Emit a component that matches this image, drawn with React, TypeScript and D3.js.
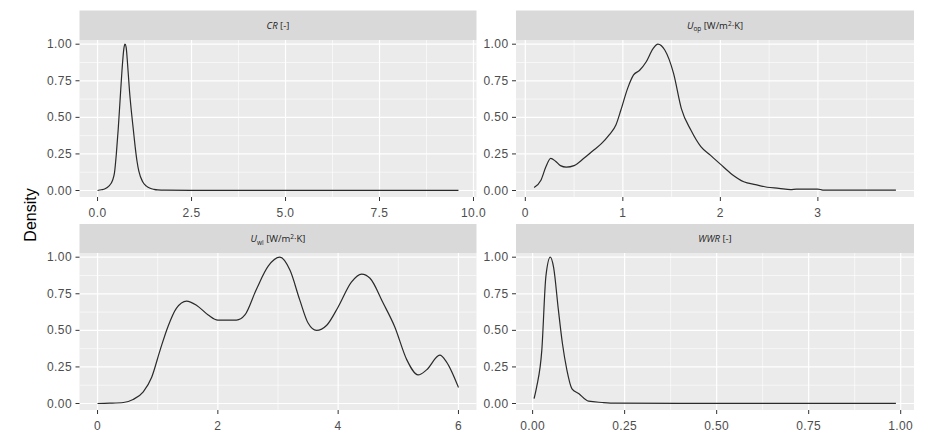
import * as d3 from "d3";
import React from "react";

// density curves (scaled so that max = 1)
const crX = [0, 0.1, 0.2, 0.3, 0.4, 0.45, 0.5, 0.55, 0.6, 0.65, 0.7, 0.73, 0.76, 0.8, 0.85, 0.9, 0.95, 1.0, 1.05, 1.1, 1.2, 1.3, 1.4, 1.5, 1.6, 1.8, 2.5, 5, 7.5, 9.6];
const crY = [0, 0.005, 0.012, 0.03, 0.07, 0.12, 0.25, 0.42, 0.62, 0.82, 0.97, 1.0, 0.98, 0.86, 0.68, 0.54, 0.42, 0.3, 0.2, 0.13, 0.06, 0.03, 0.015, 0.008, 0.004, 0.002, 0.001, 0.001, 0.001, 0.001];

const uopX = [0.09, 0.16, 0.21, 0.26, 0.31, 0.36, 0.42, 0.5, 0.6, 0.69, 0.78, 0.86, 0.93, 0.98, 1.05, 1.11, 1.17, 1.24, 1.31, 1.36, 1.43, 1.52, 1.6, 1.7, 1.8, 1.9, 2.0, 2.12, 2.24, 2.36, 2.48, 2.6, 2.72, 2.78, 2.9, 3.0, 3.05, 3.3, 3.55, 3.8];
const uopY = [0.02, 0.07, 0.16, 0.22, 0.2, 0.17, 0.16, 0.17, 0.22, 0.27, 0.32, 0.38, 0.45, 0.55, 0.7, 0.79, 0.82, 0.88, 0.97, 1.0, 0.96, 0.8, 0.56, 0.41, 0.3, 0.24, 0.18, 0.11, 0.06, 0.04, 0.022, 0.015, 0.006, 0.01, 0.01, 0.01, 0.003, 0.002, 0.002, 0.002];

const uwlX = [0, 0.2, 0.43, 0.59, 0.76, 0.9, 1.04, 1.17, 1.31, 1.48, 1.65, 1.84, 2.0, 2.31, 2.45, 2.64, 2.84, 3.03, 3.2, 3.36, 3.5, 3.64, 3.81, 4.0, 4.22, 4.39, 4.53, 4.75, 4.94, 5.14, 5.33, 5.47, 5.69, 5.8, 6.0];
const uwlY = [0, 0.002, 0.007, 0.027, 0.08, 0.18, 0.365, 0.525, 0.65, 0.7, 0.67, 0.605, 0.57, 0.57, 0.605, 0.78, 0.94, 1.0, 0.91, 0.71, 0.55, 0.5, 0.535, 0.66, 0.83, 0.885, 0.856, 0.685, 0.525, 0.3, 0.195, 0.23, 0.33, 0.285, 0.11];

const wwrX = [0.004, 0.011, 0.025, 0.036, 0.048, 0.057, 0.07, 0.081, 0.093, 0.107, 0.125, 0.152, 0.189, 0.225, 0.4, 0.6, 0.8, 0.987];
const wwrY = [0.034, 0.114, 0.365, 0.867, 1.0, 0.93, 0.64, 0.41, 0.23, 0.1, 0.068, 0.016, 0.007, 0.002, 0.001, 0.001, 0.001, 0.001];

const yTicks = [0, 0.25, 0.5, 0.75, 1];
const crTicks = [0, 2.5, 5, 7.5, 10];
const uopTicks = [0, 1, 2, 3];
const uwlTicks = [0, 2, 4, 6];
const wwrTicks = [0, 0.25, 0.5, 0.75, 1];

const cols = [
  { x0: 79.5, x1: 476.5 },
  { x0: 516, x1: 914 },
];
const rows = [
  { stripTop: 10.5, top: 40, bottom: 197 },
  { stripTop: 224, top: 253, bottom: 410 },
];

const tickFont = "'Liberation Sans', Arial, sans-serif";
const stripFont = "'Open Sans', 'DejaVu Sans', sans-serif";

function minorOf(ticks, lo, hi) {
  const step = ticks[1] - ticks[0];
  const out = [ticks[0] - step / 2, ...ticks.map((t) => t + step / 2)];
  return out.filter((v) => v > lo && v < hi);
}

function StripLabel({ name }) {
  if (name === "CR") {
    return (
      <>
        <tspan fontStyle="italic">CR</tspan>
        <tspan> [-]</tspan>
      </>
    );
  }
  if (name === "WWR") {
    return (
      <>
        <tspan fontStyle="italic">WWR</tspan>
        <tspan> [-]</tspan>
      </>
    );
  }
  const sub = name === "Uop" ? "op" : "wl";
  return (
    <>
      <tspan fontStyle="italic">U</tspan>
      <tspan fontSize={6.5} dy={2.5}>{sub}</tspan>
      <tspan dy={-2.5}> [W/m</tspan>
      <tspan fontSize={6.5} dy={-3}>2</tspan>
      <tspan dy={3}>·K]</tspan>
    </>
  );
}

function Panel({ name, xs, ys, ticks, fmt, col, row }) {
  const c = cols[col];
  const r = rows[row];
  const [lo, hi] = d3.extent(xs);
  const pad = (hi - lo) * 0.05;
  const x = d3.scaleLinear().domain([lo - pad, hi + pad]).range([c.x0, c.x1]);
  const y = d3.scaleLinear().domain([0, 1]).range([r.bottom - 6.5, r.top + 4.2]);
  const [ylo, yhi] = [y.invert(r.bottom), y.invert(r.top)];
  const [xlo, xhi] = x.domain();
  const xMinor = minorOf(ticks, xlo, xhi);
  const yMinor = minorOf(yTicks, ylo, yhi);
  const xMajor = ticks.filter((t) => t >= xlo && t <= xhi);
  const pts = xs.map((v, i) => [v, ys[i]]);
  const path = d3
    .line()
    .x((d) => x(d[0]))
    .y((d) => y(d[1]))
    .curve(d3.curveMonotoneX)(pts);
  const f = d3.format(fmt);

  return (
    <g>
      <rect x={c.x0} y={r.stripTop} width={c.x1 - c.x0} height={r.top - r.stripTop} fill="#D9D9D9" />
      <text
        x={(c.x0 + c.x1) / 2}
        y={(r.stripTop + r.top) / 2 + 3.5}
        textAnchor="middle"
        fontFamily={stripFont}
        fontSize={9.5}
        fill="#1A1A1A"
      >
        <StripLabel name={name} />
      </text>
      <rect x={c.x0} y={r.top} width={c.x1 - c.x0} height={r.bottom - r.top} fill="#EBEBEB" />
      {xMinor.map((v) => (
        <line key={"xm" + v} x1={x(v)} x2={x(v)} y1={r.top} y2={r.bottom} stroke="#fff" strokeWidth={0.6} />
      ))}
      {yMinor.map((v) => (
        <line key={"ym" + v} x1={c.x0} x2={c.x1} y1={y(v)} y2={y(v)} stroke="#fff" strokeWidth={0.6} />
      ))}
      {xMajor.map((v) => (
        <line key={"xM" + v} x1={x(v)} x2={x(v)} y1={r.top} y2={r.bottom} stroke="#fff" strokeWidth={1.2} />
      ))}
      {yTicks.map((v) => (
        <line key={"yM" + v} x1={c.x0} x2={c.x1} y1={y(v)} y2={y(v)} stroke="#fff" strokeWidth={1.2} />
      ))}
      <path d={path} fill="none" stroke="#2A2A2A" strokeWidth={1.2} />
      {yTicks.map((v) => (
        <g key={"yt" + v}>
          <line x1={c.x0 - 4} x2={c.x0} y1={y(v)} y2={y(v)} stroke="#333" strokeWidth={1} />
          <text
            x={c.x0 - 7.5}
            y={y(v) + 4}
            textAnchor="end"
            fontFamily={tickFont}
            fontSize={12}
            letterSpacing={0.4}
            fill="#4D4D4D"
          >
            {d3.format(".2f")(v)}
          </text>
        </g>
      ))}
      {xMajor.map((v) => (
        <g key={"xt" + v}>
          <line x1={x(v)} x2={x(v)} y1={r.bottom} y2={r.bottom + 4} stroke="#333" strokeWidth={1} />
          <text
            x={x(v)}
            y={r.bottom + 19.5}
            textAnchor="middle"
            fontFamily={tickFont}
            fontSize={12}
            letterSpacing={0.4}
            fill="#4D4D4D"
          >
            {f(v)}
          </text>
        </g>
      ))}
    </g>
  );
}

export default function App() {
  return (
    <svg width={928} height={431} style={{ position: "absolute", left: 0, top: 0, background: "#fff" }}>
      <Panel name="CR" xs={crX} ys={crY} ticks={crTicks} fmt=".1f" col={0} row={0} />
      <Panel name="Uop" xs={uopX} ys={uopY} ticks={uopTicks} fmt="d" col={1} row={0} />
      <Panel name="Uwl" xs={uwlX} ys={uwlY} ticks={uwlTicks} fmt="d" col={0} row={1} />
      <Panel name="WWR" xs={wwrX} ys={wwrY} ticks={wwrTicks} fmt=".2f" col={1} row={1} />
      <text
        transform="translate(36,215) rotate(-90)"
        textAnchor="middle"
        fontFamily={tickFont}
        fontSize={16}
        fill="#000"
      >
        Density
      </text>
    </svg>
  );
}
